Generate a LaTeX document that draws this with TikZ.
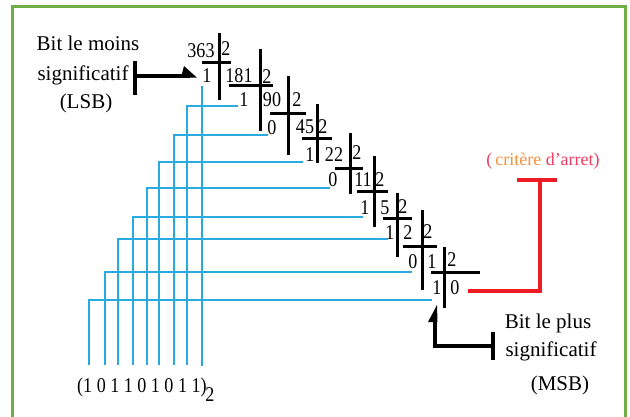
\documentclass[tikz,border=0pt]{standalone}
\usepackage{fontspec}
\setmainfont{Liberation Serif}
\newfontfamily\numfont[FakeStretch=0.86]{Liberation Serif}
\definecolor{framegreen}{HTML}{70AD47}
\definecolor{wire}{HTML}{29ABE2}
\definecolor{stopred}{HTML}{ED1C24}
\definecolor{stoporange}{HTML}{F7913C}
\definecolor{stoppink}{HTML}{EE3D5E}
\begin{document}
\begin{tikzpicture}[x=1pt,y=-1pt,
  num/.style={font=\numfont\fontsize{21}{21}\selectfont, inner sep=0pt},
  lbl/.style={font=\fontsize{21}{24}\selectfont, inner sep=0pt, anchor=base},
  bar/.style={line width=3pt, black},
  heavy/.style={line width=3.5pt, black},
  wireline/.style={wire, line width=1.3pt}]
\useasboundingbox (0,0) rectangle (630,416);
\fill[white] (0,0) rectangle (630,416);
% frame
\draw[framegreen, line width=3pt] (12,430) -- (12,6) -- (625,6) -- (625,430);

% division crosses: vertical x / top / bottom, horizontal y / left / right
\foreach \vx/\vt/\vb/\hy/\hl/\hr in {
  219/33/100/62/202/231,
  260/49/131/85/229/273,
  288/76/155/113/270/306,
  317/104/163/138/302/332,
  350/133/194/168/335/363,
  374/156/227/191/357/388,
  397/193/257/218/383/412,
  422/210/290/246/403/437,
  444/247/308/272/431/480}{
  \draw[bar] (\vx,\vt) -- (\vx,\vb);
  \draw[bar] (\hl,\hy) -- (\hr,\hy);
}

% dividends and quotients
\node[num] (q0) at (201,51) {363};
\node[num] (q1) at (239,76) {181};
\node[num] (q2) at (272,100) {90};
\node[num] (q3) at (305,127) {45};
\node[num] (q4) at (334,155) {22};
\node[num] (q5) at (363,180) {11};
\node[num] (q6) at (385,208) {5};
\node[num] (q7) at (408,233) {2};
\node[num] (q8) at (432,262) {1};
\node[num] (q9) at (455,288) {0};
% divisors
\foreach \i/\x/\y in {1/226/49,2/267/77,3/297/100,4/323/127,5/357/153,
                      6/380/180,7/403/207,8/428/232,9/452/260}
  \node[num] (d\i) at (\x,\y) {2};
% remainders
\node[num] (r1) at (207,76) {1};
\node[num] (r2) at (244,100) {1};
\node[num] (r3) at (272,128) {0};
\node[num] (r4) at (310,155) {1};
\node[num] (r5) at (333,180) {0};
\node[num] (r6) at (365,208) {1};
\node[num] (r7) at (390,233) {1};
\node[num] (r8) at (413,262) {0};
\node[num] (r9) at (437,288) {1};

% result
\node[num, anchor=base west] (bits) at (77,392) {(1 0 1 1 0 1 0 1 1)};
\node[num, anchor=base] (base) at (210,401) {2};

% remainder wires down to the result
\draw[wireline] (202,86) -- (202,366);
\foreach \y/\x/\e in {106/187/238, 135/174/268, 162/159/303, 188/147/330,
                      217/133/363, 239/118/388, 272/105/412, 300/89/432}
  \draw[wireline] (\e,\y) -- (\x,\y) -- (\x,365);

% stop criterion
\draw[stopred, line width=3.5pt] (468,291) -- (540,291) -- (540,180);
\draw[stopred, line width=3.5pt] (517,180) -- (557,180);
\node[anchor=base, inner sep=0pt, font=\fontsize{18}{20}\selectfont] (stop) at (543,165)
  {\textcolor{stoppink}{(}\,\textcolor{stoporange}{critère} \textcolor{stoppink}{d'arret)}};

% LSB label and arrow
\node[lbl] (lsb1) at (88,50) {Bit le moins};
\node[lbl] (lsb2) at (83,80) {significatif};
\node[lbl] (lsb3) at (86,108) {(LSB)};
\draw[heavy] (135,61) -- (135,95);
\draw[heavy] (135,76) -- (190,76);
\fill (184,66) -- (197,77.7) -- (181,77.7) -- cycle;

% MSB label and arrow
\node[lbl] (msb1) at (548,328) {Bit le plus};
\node[lbl] (msb2) at (551,356) {significatif};
\node[lbl] (msb3) at (560,390) {(MSB)};
\draw[heavy] (493,332) -- (493,360);
\draw[heavy] (493,346) -- (435,346) -- (435,318);
\fill (437,305) -- (437.5,322) -- (428,322) -- cycle;
\end{tikzpicture}
\end{document}
